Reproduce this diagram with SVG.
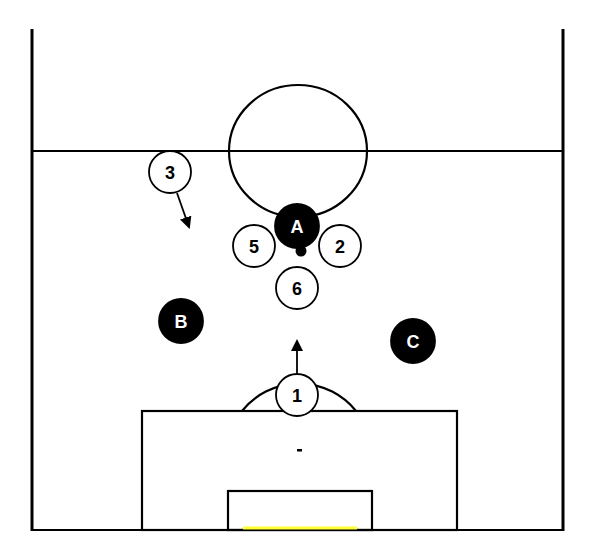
<svg xmlns="http://www.w3.org/2000/svg" width="596" height="549" viewBox="0 0 596 549">
<style>
.ln{fill:none;stroke:#000;stroke-width:2.2}
.w{fill:#fff;stroke:#000;stroke-width:1.8}
.b{fill:#000;stroke:#000;stroke-width:1.8}
.tw{font-family:"Liberation Sans",Arial,sans-serif;font-weight:bold;font-size:18px;text-anchor:middle;fill:#000}
.tb{font-family:"Liberation Sans",Arial,sans-serif;font-weight:bold;font-size:18px;text-anchor:middle;fill:#fff}
</style>
<defs>
<marker id="ah" markerWidth="12" markerHeight="12" refX="10" refY="6" orient="auto" markerUnits="userSpaceOnUse">
<path d="M0,0 L12,6 L0,12 Z" fill="#000"/>
</marker>
</defs>
<rect width="596" height="549" fill="#fff"/>
<g id="pitch">
<line x1="32" y1="29" x2="32" y2="531" stroke="#000" stroke-width="3"/>
<line x1="563" y1="29" x2="563" y2="531" stroke="#000" stroke-width="3"/>
<line x1="32" y1="151" x2="563" y2="151" class="ln"/>
<line x1="32" y1="530" x2="563" y2="530" class="ln"/>
<ellipse cx="298" cy="151" rx="69" ry="66" class="ln" stroke-width="2.6"/>
<path d="M242,411 A73,73 0 0 1 356,411" class="ln" stroke-width="2.6"/>
<rect x="142" y="411" width="315" height="119" class="ln" stroke-width="2.8"/>
<rect x="228" y="491" width="144" height="39" class="ln" stroke-width="2.8"/>
<line x1="243" y1="528" x2="357" y2="528" stroke="#ffff33" stroke-width="3"/>
<rect x="297" y="449" width="5" height="2.5" fill="#000"/>
</g>
<g id="connectors">
<line x1="177" y1="193" x2="189" y2="227" stroke="#000" stroke-width="1.8" marker-end="url(#ah)"/>
<line x1="297" y1="373" x2="297" y2="341" stroke="#000" stroke-width="1.8" marker-end="url(#ah)"/>
</g>
<g id="n3"><circle cx="170" cy="172" r="21" class="w"/><text x="170" y="178.5" class="tw">3</text></g>
<g id="nA"><circle cx="297" cy="226" r="22" class="b"/><text x="297" y="232.5" class="tb">A</text></g>
<g id="n5"><circle cx="254" cy="246" r="21" class="w"/><text x="254" y="252.5" class="tw">5</text></g>
<g id="n2"><circle cx="340" cy="246" r="21" class="w"/><text x="340" y="252.5" class="tw">2</text></g>
<g id="ball"><circle cx="301" cy="251" r="5.5" fill="#000"/></g>
<g id="n6"><circle cx="297" cy="288" r="21" class="w"/><text x="297" y="294.5" class="tw">6</text></g>
<g id="nB"><circle cx="181" cy="321" r="22" class="b"/><text x="181" y="327.5" class="tb">B</text></g>
<g id="nC"><circle cx="413" cy="341" r="22" class="b"/><text x="413" y="347.5" class="tb">C</text></g>
<g id="n1"><circle cx="297" cy="395" r="21" class="w"/><text x="297" y="401.5" class="tw">1</text></g>
</svg>
